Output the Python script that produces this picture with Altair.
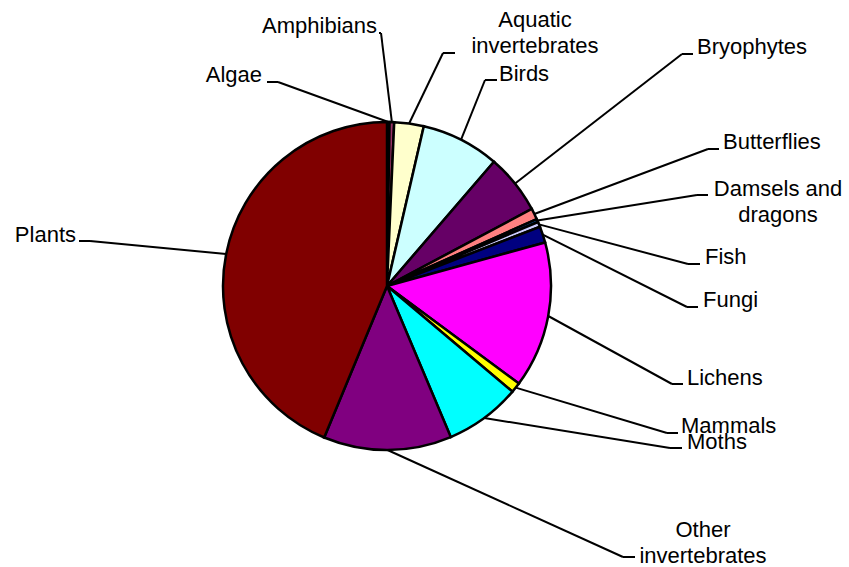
import altair as alt
import pandas as pd

# Share of recorded species by group
groups = [
    "Algae", "Amphibians", "Aquatic\ninvertebrates", "Birds", "Bryophytes",
    "Butterflies", "Damsels and\ndragons", "Fish", "Fungi", "Lichens",
    "Mammals", "Moths", "Other\ninvertebrates", "Plants",
]
shares = [0.25, 0.45, 2.9, 7.7, 5.9, 1.1, 0.3, 0.5, 1.6, 14.4, 1.0, 7.5, 12.6, 43.7]
colors = [
    "#9999FF", "#993366", "#FFFFCC", "#CCFFFF", "#660066", "#FF8080", "#0066CC",
    "#CCCCFF", "#000080", "#FF00FF", "#FFFF00", "#00FFFF", "#800080", "#800000",
]

# Label placement (pixels): text anchor, alignment, leader elbow and tail
text_x = [262, 377, 535, 499, 697, 723, 778, 705, 703, 687, 681, 687, 703, 76]
text_y = [82, 33, 27, 81, 54, 149, 196, 264, 307, 385, 433, 449, 537, 242]
text_align = ["right", "right", "center", "left", "left", "left", "center",
              "left", "left", "left", "left", "left", "center", "right"]
elbow_x = [278, 381, 443, 485, 682, 708, 697, 688, 687, 672, 667, 670, 623, 90]
elbow_y = [82, 33, 53, 80, 54, 149, 195, 264, 307, 384, 433, 448, 557, 241]
tail_x = [267, 379, 455, 497, 693, 719, 708, 700, 698, 683, 678, 682, 635, 79]

CX, CY, R = 387, 286, 164
W, H = 849, 567
FONT = "Liberation Sans"

df = pd.DataFrame({
    "group": groups,
    "share": shares,
    "idx": list(range(len(groups))),
    "tx": text_x, "ty": text_y, "align": text_align,
    "ex": elbow_x, "ey": elbow_y, "hx": tail_x,
})

base = alt.Chart(df)

pie = base.mark_arc(outerRadius=R, stroke="black", strokeWidth=2.5).encode(
    theta=alt.Theta("share:Q", stack=True),
    color=alt.Color("group:N", scale=alt.Scale(domain=groups, range=colors), legend=None),
    order=alt.Order("idx:Q"),
    x=alt.value(CX),
    y=alt.value(CY),
)

# Anchor of each leader on the rim, at the middle angle of its slice
anchored = base.transform_joinaggregate(
    total="sum(share)"
).transform_window(
    cum="sum(share)", sort=[alt.SortField("idx")], frame=[None, 0]
).transform_calculate(
    mid="2*PI*(datum.cum - datum.share/2)/datum.total",
).transform_calculate(
    ax=f"{CX} + {R}*sin(datum.mid)",
    ay=f"{CY} - {R}*cos(datum.mid)",
)

leader = anchored.mark_rule(color="black", strokeWidth=2).encode(
    x=alt.X("ax:Q", scale=None, axis=None),
    y=alt.Y("ay:Q", scale=None, axis=None),
    x2="ex:Q",
    y2="ey:Q",
)

tail = base.mark_rule(color="black", strokeWidth=2).encode(
    x=alt.X("ex:Q", scale=None, axis=None),
    y=alt.Y("ey:Q", scale=None, axis=None),
    x2="hx:Q",
    y2="ey:Q",
)

def label_layer(align):
    return base.transform_filter(alt.datum.align == align).mark_text(
        font=FONT, fontSize=22, color="black", align=align,
        baseline="alphabetic", lineBreak="\n", lineHeight=26,
    ).encode(
        x=alt.X("tx:Q", scale=None, axis=None),
        y=alt.Y("ty:Q", scale=None, axis=None),
        text="group:N",
    )

chart = alt.layer(
    leader, tail, pie,
    label_layer("left"), label_layer("right"), label_layer("center"),
).properties(
    width=W, height=H, autosize="none", padding=0,
).configure_view(stroke=None)

chart.save("out.html", embed_options={"renderer": "svg", "actions": False})
